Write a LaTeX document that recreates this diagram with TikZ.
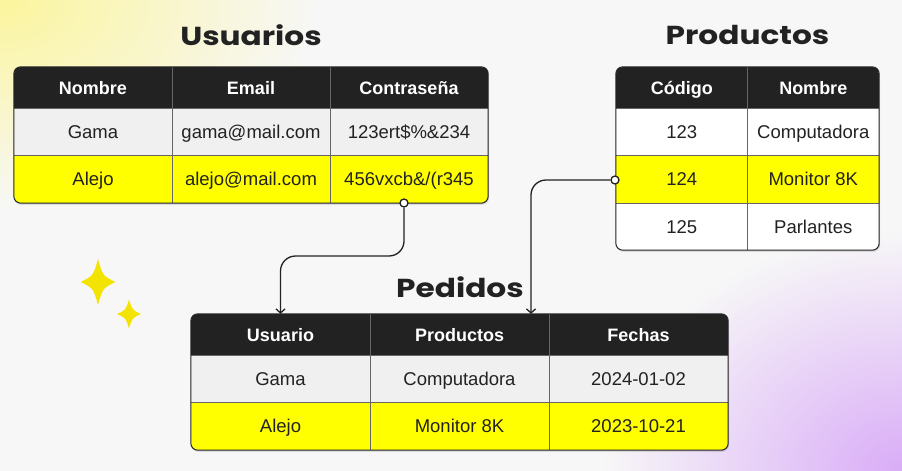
\documentclass[tikz,border=0pt]{standalone}
\usepackage{fontspec}
\setmainfont{Liberation Sans}
\newfontfamily\titlefont{Poppins}[FakeStretch=1.2]
\usetikzlibrary{arrows.meta}
\definecolor{bg}{HTML}{F7F7F7}
\definecolor{ink}{HTML}{222222}
\definecolor{rowgray}{HTML}{F0F0F0}
\definecolor{hilite}{HTML}{FFFF00}
\definecolor{spark}{HTML}{F2E400}
\definecolor{gridc}{HTML}{666666}
\definecolor{glowy}{HTML}{FBF59C}
\definecolor{glowp}{HTML}{D9ACF7}
\tikzset{
  hcell/.style={fill=ink, text=white, font=\fontsize{18}{20}\selectfont\bfseries, minimum height=41pt, inner sep=0pt, text height=17pt, text depth=4pt},
  tcell/.style={text=ink, font=\fontsize{18.5}{21}\selectfont, minimum height=47.5pt, inner sep=0pt, text height=17pt, text depth=4pt},
  tabtitle/.style={text=ink, font=\titlefont\fontsize{26}{30}\selectfont\bfseries},
  tabframe/.style={draw=ink, line width=1pt, rounded corners=7pt},
  gridline/.style={draw=gridc, line width=0.7pt},
  tabshadow/.style={fill=black, opacity=0.10, rounded corners=7pt},
  conn/.style={draw=ink, line width=1.3pt, rounded corners=15pt, -{Straight Barb[length=4pt,width=9pt]}},
  dot/.style={circle, draw=ink, fill=white, line width=1.3pt, inner sep=0pt, minimum size=8pt},
}

\begin{document}
\begin{tikzpicture}[x=1pt,y=-1pt]
  \useasboundingbox (0,0) rectangle (902,471);
  % background
  \fill[bg] (0,0) rectangle (902,471);
  \begin{scope}
    \clip (0,0) rectangle (902,471);
    \shade[inner color=glowy, outer color=bg] (0,0) ellipse (320 and 210);
    \shade[inner color=glowp, outer color=bg] (902,471) ellipse (300 and 240);
  \end{scope}

  % Usuarios
  \node[tabtitle] (t-u) at (251,35) {Usuarios};
  \fill[tabshadow] (15,69) rectangle (489,205);
  \begin{scope}
    \clip[rounded corners=7pt] (14,67) rectangle (488,203);
    \foreach \txt [count=\c] in {{Nombre},{Email},{Contraseña}}
      \node[hcell, minimum width=158pt] (u-0-\c) at ({14+158*(\c-0.5)},87.5) {\txt};
    \foreach \txt [count=\c] in {{Gama},{gama@mail.com},{123ert\$\%\&234}}
      \node[tcell, fill=rowgray, minimum width=158pt] (u-1-\c) at ({14+158*(\c-0.5)},131.75) {\txt};
    \foreach \txt [count=\c] in {{Alejo},{alejo@mail.com},{456vxcb\&/(r345}}
      \node[tcell, fill=hilite, minimum width=158pt] (u-2-\c) at ({14+158*(\c-0.5)},179.25) {\txt};
  \end{scope}
  \draw[gridline] (u-0-1.south west) -- (u-0-3.south east);
  \draw[gridline] (u-1-1.south west) -- (u-1-3.south east);
  \draw[gridline] (u-0-1.north east) -- (u-2-1.south east);
  \draw[gridline] (u-0-2.north east) -- (u-2-2.south east);
  \draw[tabframe] (u-0-1.north west) rectangle (u-2-3.south east);

  % Productos
  \node[tabtitle] (t-r) at (747.5,35) {Productos};
  \fill[tabshadow] (617,69) rectangle (880,252);
  \begin{scope}
    \clip[rounded corners=7pt] (616,67) rectangle (879,250);
    \foreach \txt [count=\c] in {{Código},{Nombre}}
      \node[hcell, minimum width=131.5pt] (r-0-\c) at ({616+131.5*(\c-0.5)},87.5) {\txt};
    \foreach \txt [count=\c] in {{123},{Computadora}}
      \node[tcell, fill=white, minimum width=131.5pt] (r-1-\c) at ({616+131.5*(\c-0.5)},131.75) {\txt};
    \foreach \txt [count=\c] in {{124},{Monitor 8K}}
      \node[tcell, fill=hilite, minimum width=131.5pt] (r-2-\c) at ({616+131.5*(\c-0.5)},179.25) {\txt};
    \foreach \txt [count=\c] in {{125},{Parlantes}}
      \node[tcell, fill=white, minimum width=131.5pt, minimum height=47pt] (r-3-\c) at ({616+131.5*(\c-0.5)},226.5) {\txt};
  \end{scope}
  \foreach \r in {0,1,2}
    \draw[gridline] (r-\r-1.south west) -- (r-\r-2.south east);
  \draw[gridline] (r-0-1.north east) -- (r-3-1.south east);
  \draw[tabframe] (r-0-1.north west) rectangle (r-3-2.south east);

  % Pedidos
  \node[tabtitle] (t-p) at (460,287) {Pedidos};
  \fill[tabshadow] (192,316) rectangle (729,452);
  \begin{scope}
    \clip[rounded corners=7pt] (191,314) rectangle (728,450);
    \foreach \txt [count=\c] in {{Usuario},{Productos},{Fechas}}
      \node[hcell, minimum width=179pt] (p-0-\c) at ({191+179*(\c-0.5)},334.5) {\txt};
    \foreach \txt [count=\c] in {{Gama},{Computadora},{2024-01-02}}
      \node[tcell, fill=rowgray, minimum width=179pt] (p-1-\c) at ({191+179*(\c-0.5)},378.75) {\txt};
    \foreach \txt [count=\c] in {{Alejo},{Monitor 8K},{2023-10-21}}
      \node[tcell, fill=hilite, minimum width=179pt] (p-2-\c) at ({191+179*(\c-0.5)},426.25) {\txt};
  \end{scope}
  \draw[gridline] (p-0-1.south west) -- (p-0-3.south east);
  \draw[gridline] (p-1-1.south west) -- (p-1-3.south east);
  \draw[gridline] (p-0-1.north east) -- (p-2-1.south east);
  \draw[gridline] (p-0-2.north east) -- (p-2-2.south east);
  \draw[tabframe] (p-0-1.north west) rectangle (p-2-3.south east);

  % connectors
  \node[dot] (d-u) at (404,203) {};
  \node[dot] (d-r) at (615,180) {};
  \coordinate (bend-u) at (0,256);
  \coordinate (p-in) at ([xshift=71.5pt]p-0-2.north);
  \draw[conn] (d-u.south) -- (d-u |- bend-u) -| (p-0-1.north);
  \draw[conn] (d-r.west) -| (p-in);

  % sparkles
  \foreach \cx/\cy/\w/\h in {98/282/17.5/23, 129/314/12/14.5}
    \fill[spark] (\cx,{\cy-\h})
      .. controls ({\cx+0.27*\w},{\cy-0.27*\h}) .. ({\cx+\w},\cy)
      .. controls ({\cx+0.27*\w},{\cy+0.27*\h}) .. (\cx,{\cy+\h})
      .. controls ({\cx-0.27*\w},{\cy+0.27*\h}) .. ({\cx-\w},\cy)
      .. controls ({\cx-0.27*\w},{\cy-0.27*\h}) .. cycle;
\end{tikzpicture}
\end{document}
